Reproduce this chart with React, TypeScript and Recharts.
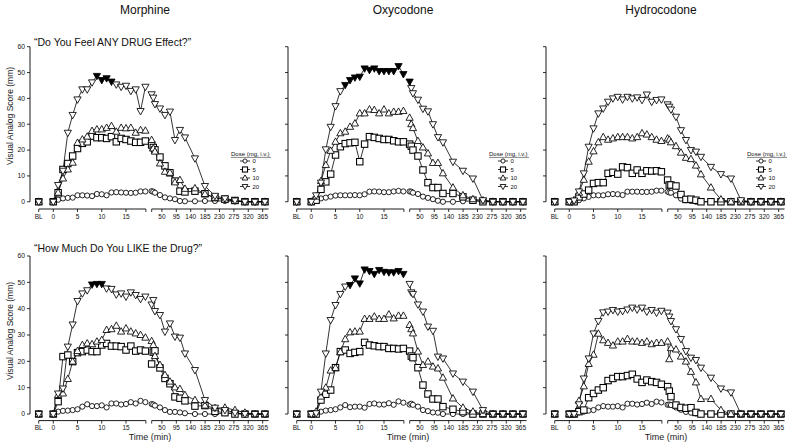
import React from 'react';
import { LineChart, Line, XAxis, YAxis, ReferenceLine } from 'recharts';

const drugs = ['Morphine', 'Oxycodone', 'Hydrocodone'];
const questions = ['\u201cDo You Feel ANY DRUG Effect?\u201d', '\u201cHow Much Do You LIKE the Drug?\u201d'];
const doses = ['0', '5', '10', '20'];

const earlyMinutes = [0, 1, 2, 3, 4, 5, 6, 7, 8, 9, 10, 11, 12, 13, 14, 15, 16, 17, 18, 19];
const lateMinutes = [20, 25, 30, 45, 60, 75, 90, 105, 120, 150, 180, 210, 240, 270, 300, 330, 360];
const earlyTickLabels = [0, 5, 10, 15];
const lateTickLabels = [50, 95, 140, 185, 230, 275, 320, 365];
const yTicks = [0, 10, 20, 30, 40, 50, 60];

// every series: BL, then 0-19 min, then the late times
const morphineAny0 = [0, 0, 0.8, 1.3, 1.5, 1.6, 2.5, 2.5, 2.4, 2.2, 3.0, 2.9, 2.5, 3.6, 3.7, 3.6, 3.5, 3.4, 3.5, 4.0, 4.0,
  4.1, 3.9, 3.5, 2.6, 1.7, 1.3, 1.0, 0.3, 0.2, 0.2, 0.3, 0.3, 0.3, 0.2, 0, 0, 0];
const morphineAny5 = [0, 0, 3.5, 12.5, 14.8, 17.7, 20.6, 22.6, 23.2, 25.4, 24.8, 24.8, 24.5, 25.2, 23.2, 24.5, 24.1, 23.5, 23.0, 23.0, 23.5,
  22.0, 21.0, 20.1, 17.3, 13.9, 11.2, 8.0, 4.1, 3.8, 4.1, 3.1, 1.6, 1.0, 0.5, 0, 0, 0];
const morphineAny10 = [0, 0, 3.5, 9.0, 12.5, 15.1, 22.8, 24.1, 25.2, 27.4, 28.0, 28.0, 28.6, 29.3, 27.1, 28.6, 28.4, 28.6, 26.7, 27.7, 27.5,
  23.9, 20.6, 19.4, 14.8, 11.6, 11.2, 7.5, 8.4, 5.0, 5.2, 3.0, 1.5, 0.8, 0.3, 0, 0, 0];
const morphineAny20 = [0, 0, 6.5, 12.0, 26.7, 33.6, 39.6, 43.5, 43.5, 46.2, 48.7, 47.1, 47.8, 46.5, 45.4, 44.5, 44.9, 42.9, 43.5, 35.1, 44.5,
  41.6, 40.3, 37.8, 36.1, 33.6, 34.9, 23.9, 27.8, 24.9, 16.8, 6.1, 2.3, 1.3, 0.5, 0, 0, 0];
const morphineAnyFilled = [10, 11, 12, 13];

const morphineLike0 = [0, 0, 0.9, 1.2, 1.3, 1.5, 1.8, 2.8, 3.7, 3.0, 3.0, 3.3, 2.5, 4.0, 4.0, 3.6, 3.8, 4.5, 4.0, 5.0, 4.5,
  3.8, 3.6, 3.2, 2.5, 1.5, 0.8, 0.8, 0.6, 0.3, 0, 0, 0, 0.3, 0.3, 0, 0, 0];
const morphineLike5 = [0, 0, 4.7, 21.8, 22.4, 19.9, 23.3, 23.7, 24.3, 23.7, 23.7, 26.2, 26.8, 25.8, 25.8, 25.6, 24.3, 25.8, 23.9, 24.3, 23.9,
  19.0, 23.5, 24.0, 17.5, 13.5, 11.5, 6.5, 6.0, 5.0, 3.0, 3.2, 1.0, 0.5, 0, 0, 0, 0];
const morphineLike10 = [0, 0, 7.2, 7.8, 13.3, 19.9, 23.9, 26.2, 26.8, 26.5, 27.5, 28.1, 31.9, 32.2, 33.5, 31.3, 32.5, 31.3, 30.6, 30.0, 29.0,
  27.7, 26.2, 22.0, 18.6, 14.8, 12.3, 10.1, 9.5, 7.2, 5.3, 3.2, 2.2, 2.4, 1.5, 0.5, 0, 0];
const morphineLike20 = [0, 0, 7.8, 9.7, 25.6, 34.0, 42.9, 45.8, 47.0, 49.2, 49.4, 49.4, 47.7, 47.5, 45.4, 45.8, 44.6, 46.2, 45.2, 43.7, 44.6,
  41.6, 43.3, 39.1, 37.6, 31.3, 34.4, 29.4, 29.0, 23.0, 16.7, 5.3, 2.4, 1.5, 0.5, 0, 0, 0];
const morphineLikeFilled = [9, 10, 11];

const oxyAny0 = [0, 0, 0.5, 1.3, 1.6, 2.0, 2.4, 2.5, 2.5, 2.5, 2.6, 2.5, 2.9, 3.9, 4.0, 3.9, 3.7, 3.7, 4.0, 4.2, 4.0,
  4.0, 3.9, 3.5, 3.0, 2.0, 1.5, 1.0, 0.4, 0, 0, 0.2, 0.3, 0.3, 0.2, 0, 0, 0];
const oxyAny5 = [0, 0, 0.6, 4.8, 7.7, 10.7, 18.1, 21.3, 22.5, 22.8, 23.0, 15.5, 22.3, 25.2, 24.9, 24.5, 24.1, 24.1, 23.6, 23.2, 23.2,
  22.3, 21.5, 20.0, 17.7, 12.3, 7.4, 5.5, 5.5, 3.2, 3.2, 1.9, 0.6, 0, 0, 0, 0, 0];
const oxyAny10 = [0, 0, 2.0, 8.0, 14.2, 19.7, 23.2, 26.5, 27.1, 29.0, 30.3, 34.2, 34.2, 35.7, 35.5, 34.2, 35.7, 34.2, 34.8, 34.8, 35.1,
  32.5, 30.0, 28.5, 23.5, 21.0, 18.7, 15.0, 15.0, 11.0, 5.5, 2.5, 1.0, 0.5, 0, 0, 0, 0];
const oxyAny20 = [0, 0, 2.5, 7.4, 20.3, 29.0, 37.0, 42.8, 45.2, 47.1, 48.1, 48.4, 51.6, 51.0, 51.6, 50.6, 50.6, 50.6, 50.6, 52.5, 49.4,
  46.5, 44.0, 42.0, 39.5, 36.0, 35.0, 30.0, 25.0, 23.0, 15.5, 12.0, 9.0, 0.6, 0, 0, 0, 0];
const oxyAnyFilled = [8, 9, 10, 11, 12, 13, 14, 15, 16, 17, 18, 19, 20, 21];

const oxyLike0 = [0, 0, 0, 0.9, 1.3, 1.5, 1.8, 2.5, 3.4, 2.6, 2.8, 2.8, 2.4, 3.8, 4.0, 3.6, 3.6, 4.1, 3.5, 4.8, 4.3,
  3.6, 3.9, 3.5, 2.8, 1.5, 1.1, 0.6, 0.5, 0, 0, 0, 0, 0, 0, 0, 0, 0];
const oxyLike5 = [0, 0, 0, 5.3, 7.5, 9.1, 17.6, 23.7, 24.3, 23.0, 23.4, 23.7, 27.2, 26.2, 25.9, 25.6, 25.6, 24.9, 24.9, 24.7, 24.9,
  23.9, 22.0, 21.4, 17.6, 11.0, 7.6, 5.7, 5.7, 2.8, 1.8, 0.9, 0, 0, 0, 0, 0, 0];
const oxyLike10 = [0, 0, 0.9, 6.6, 10.0, 16.5, 17.5, 23.5, 28.4, 31.0, 31.3, 31.3, 36.1, 36.1, 37.0, 36.1, 36.1, 37.8, 36.3, 37.3, 37.3,
  33.8, 32.2, 30.6, 23.7, 18.6, 19.9, 18.0, 17.3, 13.8, 5.9, 2.4, 0.9, 0, 0, 0, 0, 0];
const oxyLike20 = [0, 0, 0.3, 8.5, 23.0, 35.7, 41.4, 45.6, 48.4, 49.0, 51.5, 49.6, 54.9, 54.3, 53.2, 54.7, 54.0, 53.8, 53.8, 54.3, 53.2,
  49.4, 46.2, 45.6, 41.6, 38.9, 33.2, 31.6, 21.8, 21.1, 15.4, 12.3, 8.5, 1.5, 0, 0, 0, 0];
const oxyLikeFilled = [9, 10, 11, 12, 13, 14, 15, 16, 17, 18, 19, 20];

const hydroAny0 = [0, 0, 0, 0.6, 1.3, 1.9, 2.5, 2.5, 2.5, 2.9, 3.0, 2.9, 2.6, 3.9, 3.9, 3.9, 3.8, 3.8, 3.9, 4.3, 4.3,
  3.9, 3.6, 3.5, 2.5, 1.2, 0.6, 0.3, 0, 0, 0, 0, 0, 0, 0, 0, 0, 0];
const hydroAny5 = [0, 0, 0, 1.9, 3.0, 4.5, 7.1, 7.4, 7.4, 11.0, 11.4, 10.7, 13.5, 13.2, 11.0, 12.3, 11.0, 12.0, 11.9, 12.0, 11.6,
  8.4, 6.5, 6.5, 6.1, 2.8, 0.9, 1.0, 0.6, 0, 0, 0, 0, 0, 0, 0, 0, 0];
const hydroAny10 = [0, 0, 0.6, 3.5, 8.5, 15.5, 19.5, 23.0, 25.0, 24.0, 24.5, 25.0, 25.0, 25.0, 24.5, 25.0, 26.5, 26.0, 25.0, 24.0, 23.5,
  24.5, 24.0, 23.0, 21.5, 19.0, 17.0, 16.5, 14.0, 10.6, 5.5, 0.9, 0, 0, 0, 0, 0, 0];
const hydroAny20 = [0, 0, 0.5, 4.0, 11.0, 21.3, 28.4, 34.2, 36.1, 38.7, 40.0, 40.6, 39.6, 40.6, 40.0, 40.4, 39.4, 41.5, 38.7, 39.4, 39.6,
  37.7, 36.8, 35.7, 32.9, 27.7, 23.9, 20.0, 19.4, 17.4, 13.5, 10.7, 9.0, 0.6, 0, 0, 0, 0];
const hydroAnyFilled: number[] = [];

const hydroLike0 = [0, 0, 0.3, 0.6, 0.9, 1.3, 1.5, 2.5, 3.0, 2.8, 2.8, 3.0, 2.5, 3.9, 3.9, 3.6, 3.8, 4.3, 3.8, 4.7, 4.4,
  3.5, 3.6, 3.4, 2.5, 1.6, 0.8, 0.5, 0.2, 0, 0, 0, 0, 0, 0, 0, 0, 0];
const hydroLike5 = [0, 0, 0, 0.9, 1.5, 6.2, 7.8, 9.1, 10.0, 12.7, 13.5, 14.2, 14.2, 14.6, 15.1, 13.3, 12.0, 12.9, 12.3, 12.0, 11.3,
  10.4, 8.7, 6.6, 3.4, 2.5, 2.2, 2.4, 0.6, 0, 0, 0, 0, 0, 0, 0, 0, 0];
const hydroLike10 = [0, 0, 0, 5.0, 10.5, 19.0, 22.5, 30.5, 28.0, 27.0, 26.0, 27.5, 27.5, 28.5, 27.5, 27.5, 27.0, 27.5, 26.5, 27.0, 27.0,
  27.5, 20.8, 25.0, 24.5, 21.8, 19.9, 16.0, 12.0, 5.7, 5.7, 1.5, 0, 0, 0, 0, 0, 0];
const hydroLike20 = [0, 0, 0, 3.7, 13.5, 21.1, 30.6, 35.3, 38.6, 38.9, 39.5, 38.9, 39.1, 39.7, 40.4, 39.7, 40.4, 38.9, 39.5, 38.5, 39.2,
  38.5, 37.0, 35.3, 32.2, 28.5, 23.9, 21.4, 20.5, 17.6, 13.8, 9.7, 8.2, 0, 0, 0, 0, 0];
const hydroLikeFilled: number[] = [];

const panels = [
  [
    { series: [morphineAny0, morphineAny5, morphineAny10, morphineAny20], filled: morphineAnyFilled },
    { series: [oxyAny0, oxyAny5, oxyAny10, oxyAny20], filled: oxyAnyFilled },
    { series: [hydroAny0, hydroAny5, hydroAny10, hydroAny20], filled: hydroAnyFilled },
  ],
  [
    { series: [morphineLike0, morphineLike5, morphineLike10, morphineLike20], filled: morphineLikeFilled },
    { series: [oxyLike0, oxyLike5, oxyLike10, oxyLike20], filled: oxyLikeFilled },
    { series: [hydroLike0, hydroLike5, hydroLike10, hydroLike20], filled: hydroLikeFilled },
  ],
];

// broken time axis: BL, minute-by-minute block, then a compressed late block
const BL_POS = -3;
const latePos = (t: number) => 18.91 + t / 14.55;
const lateTickPos = (t: number) => 22.41 + (t - 50) / 15.16;
const X_MIN = -4.8;
const X_MAX = 44.7;
const SEG1 = [-3, 19.1];
const SEG2 = [20.3, 44.4];

const positions = [BL_POS, ...earlyMinutes, ...lateMinutes.map(latePos)];

const tickList: { pos: number; label: string }[] = [
  { pos: BL_POS, label: 'BL' },
  ...earlyTickLabels.map((m) => ({ pos: m, label: String(m) })),
  { pos: SEG1[1], label: '' },
  { pos: SEG2[0], label: '' },
  ...lateTickLabels.map((t) => ({ pos: lateTickPos(t), label: String(t) })),
];
const tickLabel = new Map(tickList.map((t) => [t.pos, t.label]));

function buildRows(series: number[][], filled: number[]) {
  const rows: any[] = [];
  positions.forEach((pos, i) => {
    const row: any = { pos, filled: filled.includes(i) };
    series.forEach((s, k) => (row['d' + k] = s[i]));
    rows.push(row);
    // gaps between BL / early block / late block
    if (i === 0 || i === earlyMinutes.length) {
      const gap: any = { pos: i === 0 ? -1.5 : 19.7 };
      series.forEach((_, k) => (gap['d' + k] = null));
      rows.push(gap);
    }
  });
  return rows;
}

function Marker({ kind, cx, cy, filled, s = 1 }: { kind: number; cx: number; cy: number; filled?: boolean; s?: number }) {
  const common = { stroke: '#000', strokeWidth: 0.85 };
  if (kind === 0) return <circle cx={cx} cy={cy} r={2.6 * s} fill="#fff" {...common} />;
  if (kind === 1) {
    const h = 3.2 * s;
    return <rect x={cx - h} y={cy - h} width={2 * h} height={2 * h} fill="#fff" {...common} strokeWidth={1.05} />;
  }
  const w = 3.6 * s;
  const a = 3.9 * s;
  const b = 2.5 * s;
  if (kind === 2) {
    return <polygon points={`${cx},${cy - a} ${cx - w},${cy + b} ${cx + w},${cy + b}`} fill="#fff" {...common} />;
  }
  return (
    <polygon
      points={`${cx - w},${cy - b} ${cx + w},${cy - b} ${cx},${cy + a}`}
      fill={filled ? '#000' : '#fff'}
      {...common}
    />
  );
}

const COL_W = 258;

function Panel({ row, col }: { row: number; col: number }) {
  const { series, filled } = panels[row][col];
  const data = buildRows(series, filled);
  const top = row === 0 ? 0 : 215;
  const height = row === 0 ? 225 : 230;
  const yMin = row === 0 ? -2.8 : -2.5;
  const margin = row === 0 ? { top: 46.7, right: 0, bottom: 0, left: 0 } : { top: 41, right: 0, bottom: 12.4, left: 0 };
  return (
    <div style={{ position: 'absolute', left: col * COL_W, top }}>
      <LineChart width={270} height={height} data={data} margin={margin}>
        <XAxis
          type="number"
          dataKey="pos"
          domain={[X_MIN, X_MAX]}
          allowDataOverflow
          ticks={tickList.map((t) => t.pos)}
          interval={0}
          tickFormatter={(v: number) => tickLabel.get(v) ?? ''}
          axisLine={false}
          tickSize={3}
          tickLine={{ stroke: '#000', strokeWidth: 0.8 }}
          tick={{ fontSize: 6.5, fill: '#111' }}
          height={row === 0 ? 16 : 12}
        />
        <YAxis
          type="number"
          domain={[yMin, 60]}
          allowDataOverflow
          ticks={yTicks}
          interval={0}
          tickFormatter={(v: number) => (col === 0 ? String(v) : '')}
          axisLine={false}
          tickSize={3}
          tickLine={{ stroke: '#000', strokeWidth: 0.8 }}
          tick={{ fontSize: 6.8, fill: '#111' }}
          width={30}
        />
        <ReferenceLine segment={[{ x: X_MIN, y: 0 }, { x: X_MIN, y: 60 }]} stroke="#000" strokeWidth={0.9} />
        <ReferenceLine segment={[{ x: SEG1[0], y: yMin }, { x: SEG1[1], y: yMin }]} stroke="#000" strokeWidth={0.9} />
        <ReferenceLine segment={[{ x: SEG2[0], y: yMin }, { x: SEG2[1], y: yMin }]} stroke="#000" strokeWidth={0.9} />
        {doses.map((d, k) => (
          <Line
            key={d}
            type="linear"
            dataKey={'d' + k}
            name={d}
            stroke="#000"
            strokeWidth={0.8}
            isAnimationActive={false}
            activeDot={false}
            dot={(p: any) =>
              p.cx == null || p.cy == null || p.value == null ? (
                <g key={`n${k}-${p.index}`} />
              ) : (
                <Marker key={`m${k}-${p.index}`} kind={k} cx={p.cx} cy={p.cy} filled={k === 3 && p.payload?.filled} />
              )
            }
          />
        ))}
      </LineChart>
    </div>
  );
}

function Legend({ col }: { col: number }) {
  const x0 = col * COL_W + 231;
  const ys = [161, 169.5, 178, 186.5];
  return (
    <g>
      <text x={x0} y={156} fontSize={6} fill="#111">Dose (mg, i.v.)</text>
      <line x1={x0} x2={x0 + 40} y1={157.4} y2={157.4} stroke="#111" strokeWidth={0.5} />
      {doses.map((d, k) => (
        <g key={d}>
          <line x1={x0 + 9} x2={x0 + 19} y1={ys[k]} y2={ys[k]} stroke="#000" strokeWidth={0.8} />
          <Marker kind={k} cx={x0 + 14} cy={ys[k]} s={0.8} />
          <text x={x0 + 21.5} y={ys[k] + 2.1} fontSize={6} fill="#111">{d}</text>
        </g>
      ))}
    </g>
  );
}

export default function App() {
  return (
    <div
      style={{
        position: 'absolute',
        left: 0,
        top: 0,
        width: 798,
        height: 445,
        background: '#fff',
        fontFamily: '"Liberation Sans", Arial, Helvetica, sans-serif',
      }}
    >
      {[0, 1].map((r) => [0, 1, 2].map((c) => <Panel key={`${r}-${c}`} row={r} col={c} />))}
      <svg width={798} height={445} style={{ position: 'absolute', left: 0, top: 0, pointerEvents: 'none' }}>
        {drugs.map((d, c) => (
          <text key={d} x={c * COL_W + 145} y={14.3} fontSize={12} textAnchor="middle" fill="#111">
            {d}
          </text>
        ))}
        <text x={34} y={45.5} fontSize={10.5} fill="#111">{questions[0]}</text>
        <text x={34} y={252} fontSize={10.5} fill="#111">{questions[1]}</text>
        {[116, 331].map((cy) => (
          <text key={cy} x={13.3} y={cy} fontSize={8.5} fill="#222" textAnchor="middle" transform={`rotate(-90 13.3 ${cy})`}>
            Visual Analog Score (mm)
          </text>
        ))}
        {[0, 1, 2].map((c) => (
          <text key={c} x={c * COL_W + 150} y={440.3} fontSize={9} fill="#222" textAnchor="middle">
            Time (min)
          </text>
        ))}
        {[0, 1, 2].map((c) => (
          <Legend key={c} col={c} />
        ))}
      </svg>
    </div>
  );
}
